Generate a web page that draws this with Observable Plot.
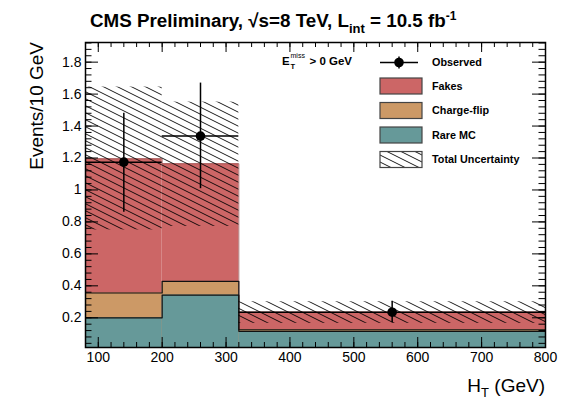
<!DOCTYPE html>
<html><head><meta charset="utf-8">
<script src="https://cdn.jsdelivr.net/npm/d3@7"></script>
<script src="https://cdn.jsdelivr.net/npm/@observablehq/plot@0.6"></script>
<style>body{margin:0;background:#fff} svg{display:block}</style>
</head><body><div id="chart"></div>
<script>
// ---- data ----
const binLo = [80, 200, 320];
const binHi = [200, 320, 800];
const rareMC = [0.200, 0.342, 0.115];
const chargeFlip = [0.155, 0.086, 0.010];
const fakes = [0.840, 0.736, 0.110];
const uncLo = [0.750, 0.772, 0.165];
const uncHi = [1.644, 1.550, 0.300];
const obsX = [140, 260, 560];
const observed = [1.174, 1.337, 0.235];
const obsLo = [0.860, 1.008, 0.169];
const obsHi = [1.480, 1.669, 0.304];
const yTicks = [0.2, 0.4, 0.6, 0.8, 1.0, 1.2, 1.4, 1.6, 1.8];
const xTicks = [100, 200, 300, 400, 500, 600, 700, 800];
const legendLabels = ["Observed", "Fakes", "Charge-flip", "Rare MC", "Total Uncertainty"];
const colors = {fakes: "#cc6666", cf: "#cc9966", rare: "#669999"};

const xDomain = [80, 800];
const yDomain = [0.014, 1.923];
const FONT = "Liberation Sans, Arial, Helvetica, sans-serif";
const W = 568, H = 408, mL = 85, mR = 23, mT = 42, mB = 61;
const fw = W - mL - mR, fh = H - mT - mB;

// ---- tables built from the arrays ----
const bins = binLo.map((lo, i) => ({
  lo, hi: binHi[i],
  rare: rareMC[i],
  cf: rareMC[i] + chargeFlip[i],
  tot: rareMC[i] + chargeFlip[i] + fakes[i],
  uLo: uncLo[i], uHi: uncHi[i]
}));
const steps = key => [...bins.map(b => ({x: b.lo, y: b[key]})), {x: bins[bins.length - 1].hi, y: bins[bins.length - 1][key]}];
const obs = obsX.map((x, i) => ({x, y: observed[i], lo: obsLo[i], hi: obsHi[i], x1: binLo[i], x2: binHi[i]}));
const yMinor = d3.range(1, 49).map(i => +(i * 0.04).toFixed(2));
const xMinor = d3.range(100, 800, 20);

const chart = Plot.plot({
  width: W, height: H,
  marginLeft: mL, marginRight: mR, marginTop: mT, marginBottom: mB,
  style: {fontFamily: FONT, fontSize: "14px", background: "white", color: "black"},
  x: {domain: xDomain},
  y: {domain: yDomain},
  marks: [
    Plot.rect(bins, {x1: "lo", x2: "hi", y1: yDomain[0], y2: "tot", fill: colors.fakes}),
    Plot.rect(bins, {x1: "lo", x2: "hi", y1: yDomain[0], y2: "cf", fill: colors.cf}),
    Plot.rect(bins, {x1: "lo", x2: "hi", y1: yDomain[0], y2: "rare", fill: colors.rare}),
    Plot.line(steps("tot"), {x: "x", y: "y", curve: "step-after", stroke: "#9a5050", strokeWidth: 0.8}),
    Plot.line(steps("cf"), {x: "x", y: "y", curve: "step-after", stroke: "#111", strokeWidth: 1.2}),
    Plot.line(steps("rare"), {x: "x", y: "y", curve: "step-after", stroke: "#111", strokeWidth: 1.2}),
    Plot.rect(bins, {x1: "lo", x2: "hi", y1: "uLo", y2: "uHi", fill: "url(#hatch)"}),
    Plot.ruleX(obs, {x: "x", y1: "lo", y2: "hi", stroke: "black", strokeWidth: 1.5}),
    Plot.ruleY(obs, {y: "y", x1: "x1", x2: "x2", stroke: "black", strokeWidth: 1.5}),
    Plot.dot(obs, {x: "x", y: "y", r: 4.8, fill: "black"}),
    // inward ticks (ROOT style) on all four sides
    Plot.tickY(yMinor, {y: d => d, insetRight: fw - 6.5, stroke: "black"}),
    Plot.tickY(yTicks, {y: d => d, insetRight: fw - 13, stroke: "black"}),
    Plot.tickY(yMinor, {y: d => d, insetLeft: fw - 6.5, stroke: "black"}),
    Plot.tickY(yTicks, {y: d => d, insetLeft: fw - 13, stroke: "black"}),
    Plot.tickX(xMinor, {x: d => d, insetTop: fh - 5, stroke: "black"}),
    Plot.tickX(xTicks, {x: d => d, insetTop: fh - 10, stroke: "black"}),
    Plot.tickX(xMinor, {x: d => d, insetBottom: fh - 5, stroke: "black"}),
    Plot.tickX(xTicks, {x: d => d, insetBottom: fh - 10, stroke: "black"}),
    Plot.frame({stroke: "black", strokeWidth: 1.5}),
    Plot.axisY({ticks: yTicks, tickSize: 0, tickPadding: 4, label: null, fontSize: 14, tickFormat: d => String(+d.toFixed(1))}),
    Plot.axisX({ticks: xTicks, tickSize: 0, tickPadding: 5, label: null, fontSize: 14, tickFormat: d => String(d)})
  ]
});
document.getElementById("chart").appendChild(chart);

const svg = d3.select(chart);
svg.insert("defs", ":first-child").html(
  '<pattern id="hatch" patternUnits="userSpaceOnUse" width="14" height="7">' +
  '<path d="M-2,-1L16,8M-2,-8L16,1M-2,6L16,15" stroke="black" stroke-width="0.9" fill="none"/></pattern>');

const g = svg.append("g").attr("font-family", FONT).attr("fill", "black").attr("text-anchor", "start");
// title
const t = g.append("text").attr("x", 90).attr("y", 27).attr("font-size", 18.8).attr("font-weight", "bold");
t.append("tspan").text("CMS Preliminary, \u221As=8 TeV, L");
t.append("tspan").attr("font-size", 13).attr("dy", 6).text("int");
t.append("tspan").attr("dy", -6).text(" = 10.5 fb");
t.append("tspan").attr("font-size", 12).attr("dy", -7).text("-1");

// y label
g.append("text").attr("transform", "translate(43,42) rotate(-90)").attr("text-anchor", "end")
  .attr("font-size", 19).text("Events/10 GeV");

// x label
const xl = g.append("text").attr("x", 545).attr("y", 392).attr("text-anchor", "end").attr("font-size", 19);
xl.append("tspan").text("H");
xl.append("tspan").attr("font-size", 13).attr("dy", 5).text("T");
xl.append("tspan").attr("dy", -5).text(" (GeV)");

// MET cut label
const lg = g.append("g").attr("font-weight", "bold");
lg.append("text").attr("x", 282).attr("y", 65).attr("font-size", 11.5).text("E");
lg.append("text").attr("x", 290.5).attr("y", 58).attr("font-size", 7).attr("font-weight", "normal").text("miss");
lg.append("text").attr("x", 290.5).attr("y", 69).attr("font-size", 7.5).text("T");
lg.append("text").attr("x", 309.5).attr("y", 65).attr("font-size", 11.5).text("> 0 GeV");

// legend
const rowY = [62.5, 86, 110.5, 135, 159.5];
lg.append("line").attr("x1", 380).attr("x2", 418).attr("y1", rowY[0]).attr("y2", rowY[0]).attr("stroke", "black").attr("stroke-width", 1.5);
lg.append("line").attr("x1", 399).attr("x2", 399).attr("y1", rowY[0] - 6).attr("y2", rowY[0] + 6).attr("stroke", "black").attr("stroke-width", 1.5);
lg.append("circle").attr("cx", 399).attr("cy", rowY[0]).attr("r", 4.8).attr("fill", "black");
const fills = [colors.fakes, colors.cf, colors.rare, "url(#hatch)"];
fills.forEach((f, i) => {
  lg.append("rect").attr("x", 380).attr("y", rowY[i + 1] - 8).attr("width", 42).attr("height", 16)
    .attr("fill", f).attr("stroke", "#444").attr("stroke-width", 1.2);
});
legendLabels.forEach((s, i) => {
  lg.append("text").attr("x", 432).attr("y", rowY[i]).attr("dy", "0.36em").attr("font-size", 10.8).text(s);
});
</script>
</body></html>
